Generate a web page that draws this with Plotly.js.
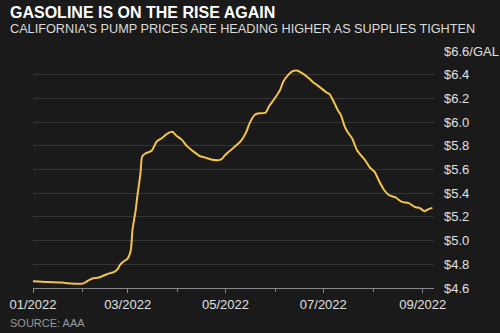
<!DOCTYPE html>
<html>
<head>
<meta charset="utf-8">
<script src="https://cdn.plot.ly/plotly-3.0.1.min.js"></script>
<style>html,body{margin:0;padding:0;background:#1a1a1a;}#chart{width:500px;height:333px;}</style>
</head>
<body>
<div id="chart"></div>
<script>
const dates = [
 "2022-01-01","2022-01-10","2022-01-19","2022-01-25","2022-01-29","2022-02-01","2022-02-04","2022-02-07",
 "2022-02-11","2022-02-16","2022-02-21","2022-02-23","2022-02-24","2022-02-26","2022-03-01","2022-03-03",
 "2022-03-04","2022-03-06","2022-03-07","2022-03-09","2022-03-10","2022-03-12","2022-03-16","2022-03-19",
 "2022-03-22","2022-03-26","2022-03-29","2022-03-31","2022-04-04","2022-04-07","2022-04-10","2022-04-15",
 "2022-04-18","2022-04-22","2022-04-27","2022-04-29","2022-05-01","2022-05-03","2022-05-08","2022-05-11",
 "2022-05-14","2022-05-16","2022-05-19","2022-05-21","2022-05-26","2022-05-28","2022-05-31","2022-06-04",
 "2022-06-06","2022-06-09","2022-06-12","2022-06-15","2022-06-18","2022-06-22","2022-06-25","2022-06-28",
 "2022-07-03","2022-07-05","2022-07-08","2022-07-10","2022-07-12","2022-07-14","2022-07-16","2022-07-19",
 "2022-07-22","2022-07-27","2022-07-30","2022-08-02","2022-08-05","2022-08-08","2022-08-11","2022-08-15",
 "2022-08-19","2022-08-23","2022-08-27","2022-08-30","2022-09-02","2022-09-04","2022-09-07"
];
const prices = [
 4.657,4.650,4.646,4.637,4.635,4.637,4.659,4.680,
 4.688,4.716,4.739,4.764,4.790,4.820,4.848,4.920,
 5.088,5.257,5.369,5.567,5.707,5.735,5.758,5.834,
 5.862,5.905,5.918,5.890,5.848,5.797,5.763,5.713,
 5.702,5.685,5.679,5.693,5.725,5.749,5.806,5.848,
 5.918,5.989,6.059,6.073,6.079,6.130,6.186,6.270,
 6.341,6.397,6.431,6.434,6.411,6.370,6.332,6.304,
 6.250,6.234,6.158,6.101,6.059,5.975,5.918,5.862,
 5.763,5.679,5.617,5.580,5.496,5.425,5.383,5.364,
 5.327,5.318,5.284,5.276,5.248,5.262,5.276
];
const yTickVals = [4.6,4.8,5.0,5.2,5.4,5.6,5.8,6.0,6.2,6.4,6.6];
const yTickText = ["$4.6","$4.8","$5.0","$5.2","$5.4","$5.6","$5.8","$6.0","$6.2","$6.4","$6.6/GAL"];
const titleText = "GASOLINE IS ON THE RISE AGAIN";
const subtitleText = "CALIFORNIA'S PUMP PRICES ARE HEADING HIGHER AS SUPPLIES TIGHTEN";
const sourceText = "SOURCE: AAA";

const M = {l:33, r:66, t:51, b:45};
const plotH = 333 - M.t - M.b, plotW = 500 - M.l - M.r;
const py = p => (333 - M.b - p) / plotH;
const px = p => (p - M.l) / plotW;

const font = "Liberation Sans, Arial, Helvetica, sans-serif";
const trace = {
  x: dates, y: prices, type: "scatter", mode: "lines",
  line: {color: "#f2c350", width: 2, shape: "spline", smoothing: 0.6},
  hoverinfo: "skip"
};
const layout = {
  width: 500, height: 333,
  margin: M,
  paper_bgcolor: "#1a1a1a", plot_bgcolor: "#1a1a1a",
  showlegend: false,
  font: {family: font, color: "#dddddd", size: 13},
  xaxis: {
    type: "date", range: ["2022-01-01","2022-09-08"],
    tick0: "2022-01-01", dtick: "M2", tickformat: "%m/%Y",
    showgrid: false, zeroline: false,
    showline: true, linecolor: "#8a8a8a", linewidth: 1,
    ticks: "outside", ticklen: 4, tickcolor: "#8a8a8a", tickwidth: 1,
    minor: {dtick: "M1", tick0: "2022-01-01", ticks: "outside", ticklen: 3, tickcolor: "#8a8a8a", showgrid: false},
    tickfont: {family: font, size: 13, color: "#e0e0e0"}
  },
  yaxis: {
    side: "right", range: [4.6, 6.6],
    tickvals: yTickVals, ticktext: yTickText,
    showgrid: true, gridcolor: "#353535", gridwidth: 1,
    zeroline: false, showline: false, ticks: "",
    ticklabelstandoff: 9,
    tickfont: {family: font, size: 13, color: "#e0e0e0"}
  },
  annotations: [
    {text: "<b>" + titleText + "</b>", xref: "paper", yref: "paper", x: px(8), y: py(2),
     xanchor: "left", yanchor: "top", showarrow: false, font: {family: font, size: 16, color: "#ffffff"}},
    {text: subtitleText, xref: "paper", yref: "paper", x: px(8), y: py(20),
     xanchor: "left", yanchor: "top", showarrow: false, font: {family: font, size: 12.7, color: "#dcdcdc"}},
    {text: sourceText, xref: "paper", yref: "paper", x: px(8), y: py(322.5),
     xanchor: "left", yanchor: "middle", showarrow: false, font: {family: font, size: 11, color: "#9a9a9a"}}
  ]
};
Plotly.newPlot("chart", [trace], layout, {staticPlot: true, displayModeBar: false});
</script>
</body>
</html>
